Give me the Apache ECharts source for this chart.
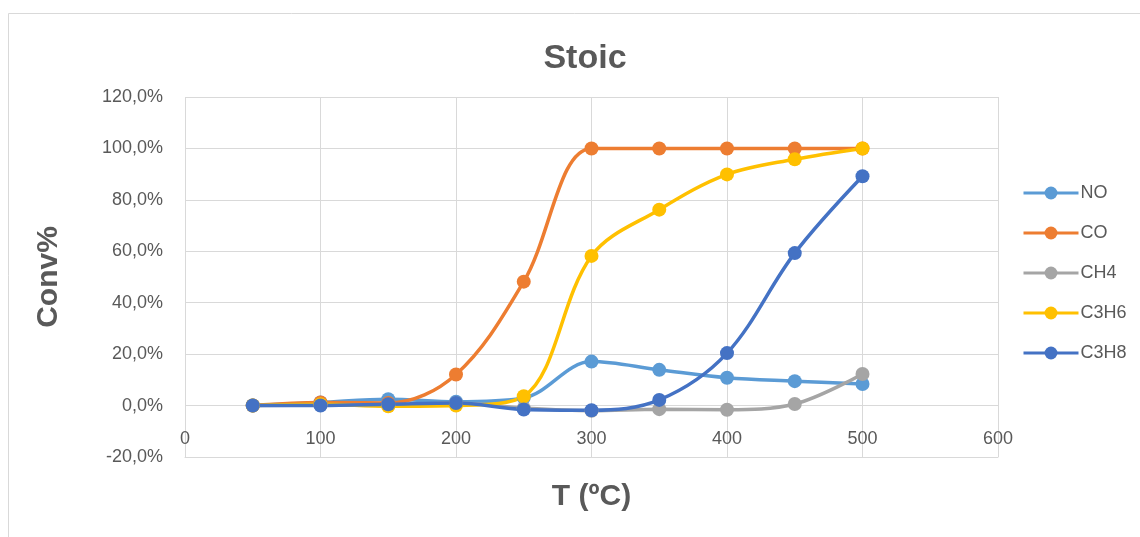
<!DOCTYPE html>
<html>
<head>
<meta charset="utf-8">
<script src="https://cdn.jsdelivr.net/npm/echarts@6/dist/echarts.min.js"></script>
<style>
  html, body { margin: 0; padding: 0; background: #fff; }
  #chart { width: 1140px; height: 537px; }
</style>
</head>
<body>
<div id="chart"></div>
<script>
// Temperature points (ºC)
const temps = [50, 100, 150, 200, 250, 300, 350, 400, 450, 500];

// Conversion (%) per species
const convNO   = [0, 1.2, 2.5, 1.5, 3.0, 17.1, 13.9, 10.8, 9.5, 8.4];
const convCO   = [0, 1.2, 1.0, 12.1, 48.2, 100, 100, 100, 100, 100];
const convCH4  = [0, 0.2, 0, 1.0, -1.0, -2.0, -1.4, -1.6, 0.6, 12.3];
const convC3H6 = [0, 0.5, -0.3, 0, 3.6, 58.2, 76.2, 89.9, 95.8, 100];
const convC3H8 = [0, 0, 0.5, 1.0, -1.5, -1.8, 2.2, 20.4, 59.3, 89.2];

const seriesNames  = ['NO', 'CO', 'CH4', 'C3H6', 'C3H8'];
const seriesColors = ['#5B9BD5', '#ED7D31', '#A5A5A5', '#FFC000', '#4472C4'];
const seriesValues = [convNO, convCO, convCH4, convC3H6, convC3H8];

const font = 'Liberation Sans, Arial, sans-serif';
const pct = v => v.toFixed(1).replace('.', ',') + '%';

const chart = echarts.init(document.getElementById('chart'), null, { renderer: 'canvas' });

chart.setOption({
  animation: false,
  backgroundColor: '#fff',
  graphic: [{
    type: 'rect',
    shape: { x: 8.5, y: 13.5, width: 1140, height: 540 },
    style: { fill: 'none', stroke: '#d9d9d9', lineWidth: 1 },
    silent: true
  }],
  title: {
    text: 'Stoic',
    left: 580,
    top: 37,
    textAlign: 'center',
    textStyle: { fontFamily: font, fontSize: 34, fontWeight: 'bold', color: '#595959' }
  },
  legend: {
    orient: 'vertical',
    left: 1017,
    top: 179,
    itemGap: 22,
    itemWidth: 55,
    itemHeight: 16,
    data: seriesNames,
    lineStyle: { width: 3 },
    textStyle: { fontFamily: font, fontSize: 18, lineHeight: 18, color: '#595959', padding: [0, 0, 0, -3] }
  },
  grid: { left: 185, right: 142, top: 97, bottom: 80, outerBoundsMode: 'none', containLabel: false },
  xAxis: {
    type: 'value',
    min: 0, max: 600, interval: 100,
    name: 'T (ºC)',
    nameLocation: 'middle',
    nameGap: 25,
    nameTextStyle: { fontFamily: font, fontSize: 30, fontWeight: 'bold', color: '#595959' },
    axisLine: { onZero: false, lineStyle: { color: '#d9d9d9', width: 1 } },
    axisTick: { show: false },
    axisLabel: { fontFamily: font, fontSize: 18, color: '#595959', margin: -27 },
    splitLine: { show: true, lineStyle: { color: '#d9d9d9', width: 1 } }
  },
  yAxis: {
    type: 'value',
    min: -20, max: 120, interval: 20,
    name: 'Conv%',
    nameLocation: 'middle',
    nameGap: 121,
    nameTextStyle: { fontFamily: font, fontSize: 30, fontWeight: 'bold', color: '#595959' },
    axisLine: { show: false },
    axisTick: { show: false },
    axisLabel: { fontFamily: font, fontSize: 18, color: '#595959', margin: 22, formatter: pct },
    splitLine: { show: true, lineStyle: { color: '#d9d9d9', width: 1 } }
  },
  series: seriesNames.map((name, i) => ({
    name,
    type: 'line',
    smooth: 0.35,
    symbol: 'circle',
    symbolSize: 14,
    itemStyle: { color: seriesColors[i] },
    lineStyle: { color: seriesColors[i], width: 3.5 },
    data: temps.map((t, j) => [t, seriesValues[i][j]])
  }))
});
</script>
</body>
</html>
